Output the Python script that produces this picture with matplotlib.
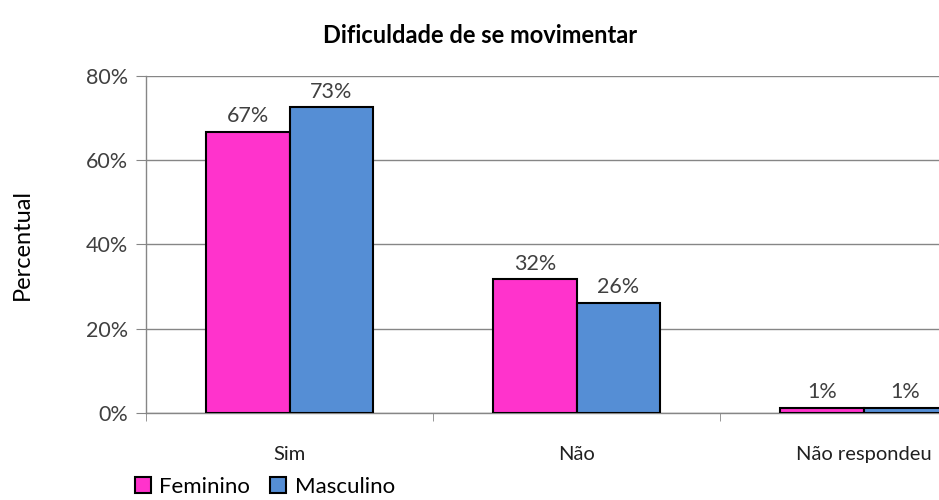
import numpy as np
import matplotlib
matplotlib.use('Agg')
import matplotlib.pyplot as plt

plt.rcParams['font.family'] = ['Lato', 'DejaVu Sans']

categories = ['Sim', 'Não', 'Não respondeu']
series_names = ['Feminino', 'Masculino']
feminino = [66.7, 31.7, 1.2]
masculino = [72.6, 26.1, 1.2]
y_ticks = [0, 20, 40, 60, 80]

colors = ['#FF33CC', '#558ED5']
grid_color = '#868686'
text_color = '#404040'

fig = plt.figure(figsize=(9.39, 5.0), dpi=100)
W, H = 939, 500
# axes spans three categories of ~287 px each; the last one runs off the figure
ax = fig.add_axes([146 / W, (H - 413) / H, 861 / W, (413 - 76) / H])

x = np.arange(len(categories))
bw = 0.29
for i, (vals, name) in enumerate(zip([feminino, masculino], series_names)):
    offs = (i - 0.5) * bw
    bars = ax.bar(x + offs, vals, width=bw, color=colors[i], edgecolor='black',
                  linewidth=1.5, label=name, zorder=3)
    for b, v in zip(bars, vals):
        ax.annotate(f'{v:.0f}%', (b.get_x() + b.get_width() / 2, v),
                    xytext=(0, 4), textcoords='offset points', ha='center',
                    va='bottom', fontsize=15.5, color=text_color)

ax.set_xlim(-0.5, 2.5)
ax.set_ylim(0, 80)
ax.set_yticks(y_ticks)
ax.set_yticklabels([f'{t}%' for t in y_ticks], fontsize=15.5, color=text_color)
ax.yaxis.grid(True, color=grid_color, linewidth=1, zorder=0)
ax.set_axisbelow(True)

ax.set_xticks(x)
ax.set_xticklabels(categories, fontsize=14.5, color='#202020')
ax.tick_params(axis='x', length=0, pad=24)
ax.set_xticks(np.arange(-0.5, 3.0, 1.0), minor=True)
ax.tick_params(axis='x', which='minor', length=6, color=grid_color, direction='out')
ax.tick_params(axis='y', length=7, color=grid_color, direction='out', pad=6)

for s in ['top', 'right']:
    ax.spines[s].set_visible(False)
for s in ['left', 'bottom']:
    ax.spines[s].set_color(grid_color)
    ax.spines[s].set_linewidth(1)

fig.text(480 / W, 1 - 35 / H, 'Dificuldade de se movimentar', ha='center',
         va='center', fontsize=17, fontweight='bold', color='black')
fig.text(22 / W, 1 - 245 / H, 'Percentual', rotation=90, ha='center',
         va='center', fontsize=17, color='black')

fig.legend(loc='center left', bbox_to_anchor=(135 / W, 1 - 487 / H), ncol=2,
           frameon=False, fontsize=16, handlelength=0.7, handleheight=0.7,
           handletextpad=0.4, columnspacing=0.9, borderaxespad=0, borderpad=0)

fig.savefig('out.png', dpi=100)
